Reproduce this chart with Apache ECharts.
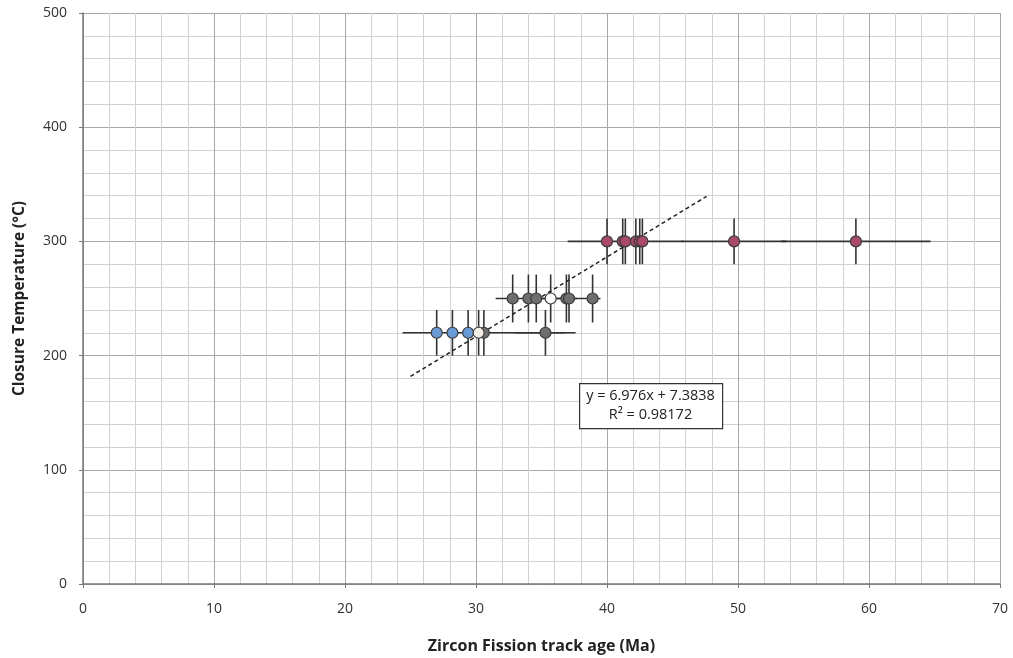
<!DOCTYPE html>
<html>
<head>
<meta charset="utf-8">
<script src="https://cdn.jsdelivr.net/npm/echarts@6/dist/echarts.min.js"></script>
<style>
  html, body { margin: 0; padding: 0; background: #fff; }
  #chart { width: 1013px; height: 658px; }
</style>
</head>
<body>
<div id="chart"></div>
<script>
// ages (Ma) and closure temperatures (°C)
var blueAges = [27.0, 28.2, 29.4]
var blueTemps = [220, 220, 220]
var grey220Ages = [30.6, 35.3]
var grey220Temps = [220, 220]
var open220Ages = [30.2]
var open220Temps = [220]
var grey250Ages = [32.8, 34.0, 34.6, 36.9, 37.1, 38.9]
var grey250Temps = [250, 250, 250, 250, 250, 250]
var open250Ages = [35.7]
var open250Temps = [250]
var pinkAges = [40.0, 41.2, 41.4, 42.2, 42.5, 42.7, 49.7, 59.0]
var pinkTemps = [300, 300, 300, 300, 300, 300, 300, 300]

// error bars: [age, temp, ageErr, tempErr]
var errAges = [27.0, 28.2, 29.4, 30.2, 30.6, 35.3, 32.8, 34.0, 34.6, 35.7, 36.9, 37.1, 38.9, 40.0, 41.2, 41.4, 42.2, 42.5, 42.7, 49.7, 59.0]
var errTemps = [220, 220, 220, 220, 220, 220, 250, 250, 250, 250, 250, 250, 250, 300, 300, 300, 300, 300, 300, 300, 300]
var errAgeSize = [0, 0, 0, 0, 6.2, 2.3, 0, 0, 3.1, 0, 2.6, 0, 0, 0, 0, 4.4, 0, 0, 0, 4.0, 5.7]
var errTempSize = [20, 20, 20, 20, 20, 20, 21, 21, 21, 21, 21, 21, 21, 20, 20, 20, 20, 20, 20, 20, 20]

// linear trend shown in the picture
var slope = 6.976
var intercept = 7.3838
var trendFrom = 25
var trendTo = 47.6

var xTicks = [0, 70, 10]
var yTicks = [0, 500, 100]

function pairs (xs, ys) {
  return xs.map(function (x, i) { return [x, ys[i]] })
}

var errData = errAges.map(function (x, i) {
  return [x, errTemps[i], errAgeSize[i], errTempSize[i]]
})

var chart = echarts.init(document.getElementById('chart'))
var font = '"Open Sans", sans-serif'

function dot (name, data, color) {
  return {
    name: name,
    type: 'scatter',
    data: data,
    symbol: 'circle',
    symbolSize: 11,
    z: 5,
    itemStyle: { color: color, borderColor: '#3a3a3a', borderWidth: 1.2, opacity: 1 }
  }
}

var option = {
  animation: false,
  grid: { left: 83, right: 13, top: 13, bottom: 74, outerBoundsMode: 'none' },
  xAxis: {
    type: 'value',
    min: xTicks[0],
    max: xTicks[1],
    interval: xTicks[2],
    name: 'Zircon Fission track age (Ma)',
    nameLocation: 'middle',
    nameGap: 54,
    nameTextStyle: { fontFamily: font, fontSize: 16, fontWeight: 'bold', color: '#222' },
    axisLine: { onZero: false, lineStyle: { color: '#777', width: 1.5 } },
    axisTick: { show: true, length: 4, lineStyle: { color: '#777' } },
    axisLabel: { fontFamily: font, fontSize: 14, color: '#333', margin: 18 },
    splitLine: { show: true, lineStyle: { color: '#a8a8a8', width: 1 } },
    minorTick: { show: false, splitNumber: 5 },
    minorSplitLine: { show: true, lineStyle: { color: '#d2d2d2', width: 1 } }
  },
  yAxis: {
    type: 'value',
    min: yTicks[0],
    max: yTicks[1],
    interval: yTicks[2],
    name: 'Closure Temperature (°C)',
    nameLocation: 'middle',
    nameGap: 55,
    nameTextStyle: { fontFamily: font, fontSize: 15.5, fontWeight: 'bold', color: '#222' },
    axisLine: { show: true, lineStyle: { color: '#777', width: 1.5 } },
    axisTick: { show: true, length: 4, lineStyle: { color: '#777' } },
    axisLabel: { fontFamily: font, fontSize: 14, color: '#333', margin: 16 },
    splitLine: { show: true, lineStyle: { color: '#a8a8a8', width: 1 } },
    minorTick: { show: false, splitNumber: 5 },
    minorSplitLine: { show: true, lineStyle: { color: '#d2d2d2', width: 1 } }
  },
  series: [
    {
      name: 'errors',
      type: 'custom',
      z: 3,
      data: errData,
      renderItem: function (params, api) {
        var x = api.value(0)
        var y = api.value(1)
        var dx = api.value(2)
        var dy = api.value(3)
        var c = api.coord([x, y])
        var top = api.coord([x, y + dy])
        var bot = api.coord([x, y - dy])
        var children = [{
          type: 'line',
          shape: { x1: c[0], y1: top[1], x2: c[0], y2: bot[1] },
          style: { stroke: '#333', lineWidth: 1.6 }
        }]
        if (dx > 0) {
          var l = api.coord([x - dx, y])
          var r = api.coord([x + dx, y])
          children.push({
            type: 'line',
            shape: { x1: l[0], y1: c[1], x2: r[0], y2: c[1] },
            style: { stroke: '#333', lineWidth: 1.6 }
          })
        }
        return { type: 'group', children: children }
      }
    },
    {
      name: 'trend',
      type: 'line',
      z: 4,
      symbol: 'none',
      data: [[trendFrom, slope * trendFrom + intercept], [trendTo, slope * trendTo + intercept]],
      lineStyle: { color: '#222', width: 1.5, type: [4, 3] }
    },
    dot('blue', pairs(blueAges, blueTemps), '#6a9bd6'),
    dot('grey220', pairs(grey220Ages, grey220Temps), '#6e6e6e'),
    dot('open220', pairs(open220Ages, open220Temps), '#f4efe6'),
    dot('grey250', pairs(grey250Ages, grey250Temps), '#6e6e6e'),
    dot('open250', pairs(open250Ages, open250Temps), '#ffffff'),
    dot('pink', pairs(pinkAges, pinkTemps), '#a94a6c')
  ],
  graphic: [
    {
      type: 'rect',
      left: 579,
      top: 383,
      z: 100,
      shape: { width: 143, height: 45 },
      style: { fill: '#fff', stroke: '#333', lineWidth: 1.2 }
    },
    {
      type: 'text',
      x: 650.5,
      y: 386,
      z: 101,
      style: {
        text: 'y = 6.976x + 7.3838\nR² = 0.98172',
        fontFamily: font,
        fontSize: 14.5,
        lineHeight: 19,
        fill: '#222',
        align: 'center',
        verticalAlign: 'top'
      }
    }
  ]
}

chart.setOption(option)
</script>
</body>
</html>
